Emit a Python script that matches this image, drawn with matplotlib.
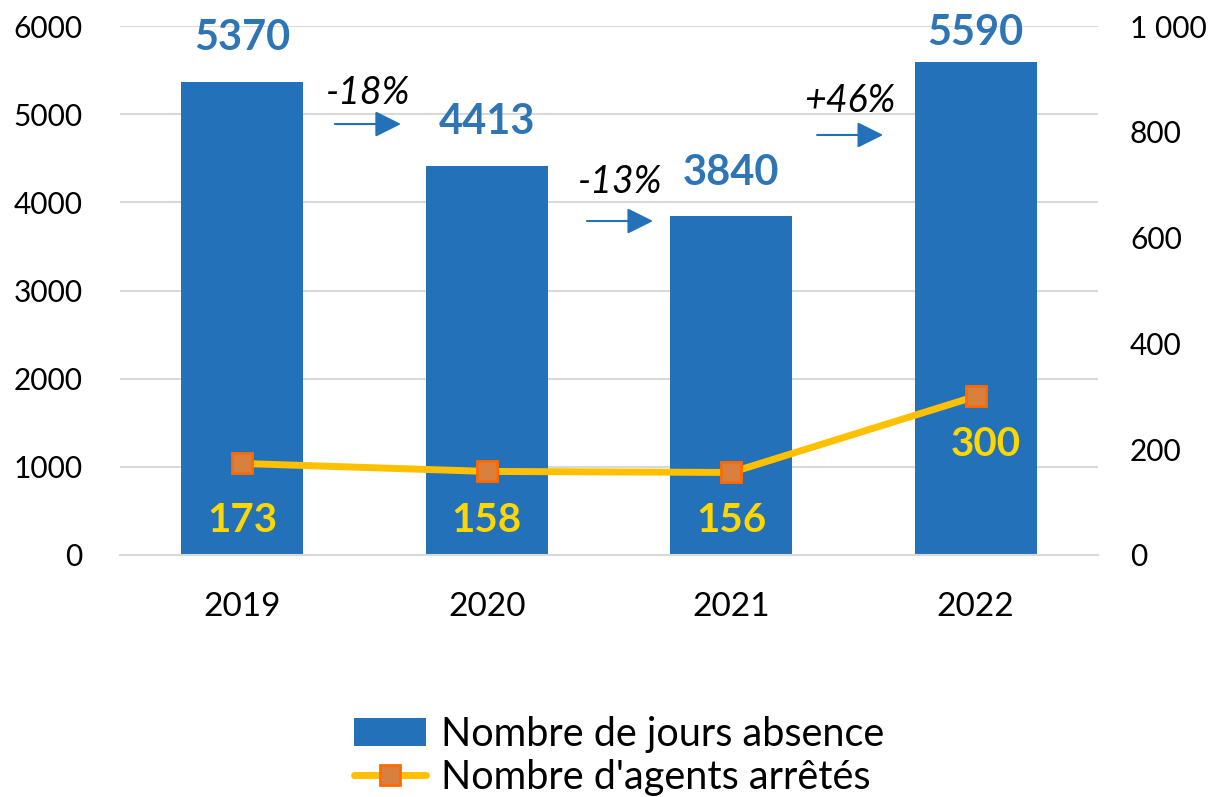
import numpy as np
import matplotlib.pyplot as plt

# Données
annees = ['2019', '2020', '2021', '2022']
jours_absence = [5370, 4413, 3840, 5590]
agents_arretes = [173, 158, 156, 300]
variations = ['-18%', '-13%', '+46%']

bleu = '#2371B9'
bleu_txt = '#2E75B6'
jaune = '#FFC000'
jaune_txt = '#FFD700'

plt.rcParams['font.family'] = ['Lato', 'DejaVu Sans']

fig = plt.figure(figsize=(12.17, 7.97), dpi=100)
ax = fig.add_axes([120 / 1217, 1 - 555 / 797, 978 / 1217, 529 / 797])
x = np.arange(len(annees))

ax.bar(x, jours_absence, width=0.5, color=bleu, zorder=2,
       label='Nombre de jours absence')
ax.set_xlim(-0.5, 3.5)
ax.set_ylim(0, 6000)
ax.set_yticks(np.arange(0, 6001, 1000))
ax.set_xticks(x)
ax.set_xticklabels(annees)
ax.grid(axis='y', color='#D9D9D9', lw=1.5, zorder=0)
for s in ['top', 'right', 'left']:
    ax.spines[s].set_visible(False)
ax.spines['bottom'].set_color('#D9D9D9')
ax.spines['bottom'].set_linewidth(1.5)
ax.tick_params(axis='y', length=0, labelsize=21.5, pad=27)
ax.tick_params(axis='x', length=0, labelsize=24, pad=27)

ax2 = ax.twinx()
ax2.set_ylim(0, 1000)
ax2.set_yticks(np.arange(0, 1001, 200))
ax2.set_yticklabels(['0', '200', '400', '600', '800', '1 000'])
for s in ax2.spines.values():
    s.set_visible(False)
ax2.tick_params(length=0, labelsize=21.5, pad=23)
ax2.plot(x, agents_arretes, color=jaune, lw=5, marker='s', ms=15,
         mfc='#D9803F', mec='#FF6A00', mew=2, solid_capstyle='round',
         label="Nombre d'agents arrêtés", zorder=3)

# Étiquettes des barres (rabattues sous le haut du graphique)
for i, v in enumerate(jours_absence):
    ax.text(i, min(v + 280, 5710), str(v), ha='center', va='bottom',
            color=bleu_txt, fontsize=30, fontweight='bold')

# Étiquettes de la courbe
for i, v in enumerate(agents_arretes):
    if i < 3:
        ax2.text(i, 66, str(v), ha='center', va='center', color=jaune_txt,
                 fontsize=29, fontweight='bold', zorder=4)
    else:
        ax2.text(i + 0.04, 208, str(v), ha='center', va='center',
                 color=jaune_txt, fontsize=29, fontweight='bold', zorder=4)

# Variations avec flèches (texte x, texte y, flèche y)
pos_var = [(0.514, 5240, 4888), (1.545, 4231, 3788), (2.486, 5149, 4764)]
for (xv, yt, ya), t in zip(pos_var, variations):
    ax.text(xv, yt, t, ha='center', va='center', fontsize=27,
            style='italic', color='black')
    ax.annotate('', xy=(xv + 0.135, ya), xytext=(xv - 0.135, ya),
                arrowprops=dict(arrowstyle='-|>,head_length=1.6,head_width=0.8',
                                color=bleu, lw=1.5, shrinkA=0, shrinkB=0))

h1, l1 = ax.get_legend_handles_labels()
h2, l2 = ax2.get_legend_handles_labels()
fig.legend(h1 + h2, l1 + l2, loc='center', bbox_to_anchor=(0.509, 0.052),
           frameon=False, fontsize=28.5, handlelength=1.8, handletextpad=0.4,
           labelspacing=0.15)

fig.savefig('out.png', dpi=100)
